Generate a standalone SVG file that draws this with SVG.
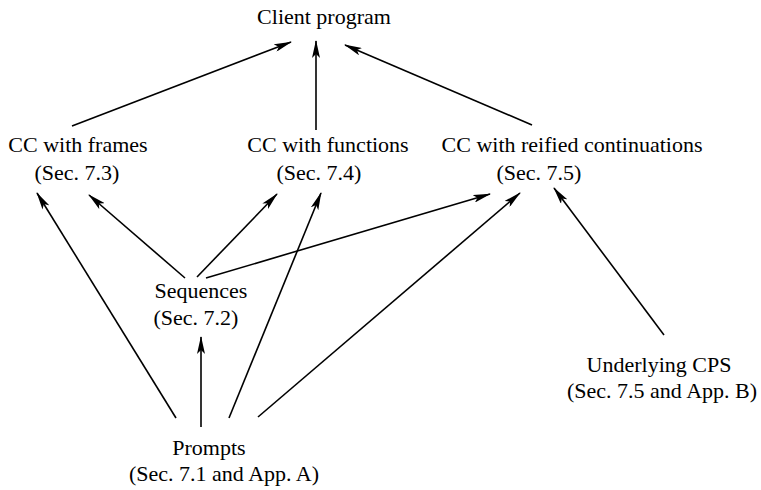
<svg xmlns="http://www.w3.org/2000/svg" width="761" height="490" viewBox="0 0 761 490">
<style>
text{font-family:"Liberation Serif","Times New Roman",serif;font-size:22px;fill:#000;text-anchor:middle}
.e line{stroke:#000;stroke-width:1.6;fill:none;marker-end:url(#ah)}
</style>
<defs>
<marker id="ah" markerUnits="userSpaceOnUse" viewBox="0 0 18 8" markerWidth="18" markerHeight="8" refX="17" refY="4" orient="auto">
<path d="M18,4 L0,0 L4,4 L0,8 z" fill="#000"/>
</marker>
</defs>
<rect width="761" height="490" fill="#fff"/>
<g id="client"><text x="324" y="24">Client program</text></g>
<g id="frames"><text x="78" y="152">CC with frames</text><text x="77" y="180">(Sec. 7.3)</text></g>
<g id="functions"><text x="328" y="152">CC with functions</text><text x="319" y="180">(Sec. 7.4)</text></g>
<g id="reified"><text x="572" y="152">CC with reified continuations</text><text x="539" y="180">(Sec. 7.5)</text></g>
<g id="sequences"><text x="201" y="298">Sequences</text><text x="196" y="325">(Sec. 7.2)</text></g>
<g id="cps"><text x="659" y="372">Underlying CPS</text><text x="662" y="398">(Sec. 7.5 and App. B)</text></g>
<g id="prompts"><text x="209" y="455">Prompts</text><text x="224" y="481">(Sec. 7.1 and App. A)</text></g>
<g class="e" id="connectors">
<line x1="72" y1="126" x2="291" y2="42"/>
<line x1="316" y1="130" x2="316" y2="41"/>
<line x1="532" y1="125" x2="345" y2="45"/>
<line x1="176" y1="418" x2="37" y2="193"/>
<line x1="185" y1="278" x2="89" y2="195"/>
<line x1="197" y1="277" x2="277" y2="194"/>
<line x1="229" y1="418" x2="321" y2="193"/>
<line x1="206" y1="278" x2="490" y2="194"/>
<line x1="258" y1="417" x2="520" y2="193"/>
<line x1="664" y1="335" x2="554" y2="188"/>
<line x1="201" y1="427" x2="201" y2="337"/>
</g>
</svg>
